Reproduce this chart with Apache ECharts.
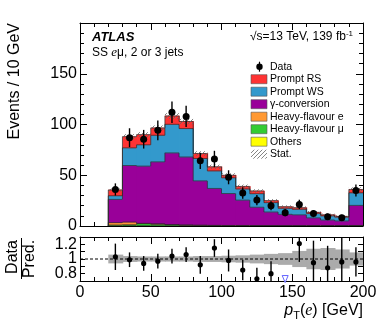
<!DOCTYPE html>
<html><head><meta charset="utf-8">
<script src="https://cdn.jsdelivr.net/npm/echarts@6/dist/echarts.min.js"></script>
<style>html,body{margin:0;padding:0;background:#fff}#c{width:382px;height:323px}</style>
</head><body><div id="c"></div>
<script>
// ---- data ----
const binLow   = [20,30,40,50,60,70,80,90,100,110,120,130,140,150,160,170,180,190];
const binWidth = 10;
const others    = [0.2,0.3,0.3,0.2,0.2,0.2,0.1,0.1,0.1,0.1,0.1,0.1,0.1,0.1,0.1,0.1,0.1,0.1];
const hfMu      = [0.8,1.0,2.0,1.6,1.0,0.6,0.5,0.4,0.3,0.3,0.2,0.2,0.1,0.1,0.1,0.1,0.1,0.2];
const hfE       = [2.3,2.6,0.3,0.3,0.2,0.2,0.2,0.1,0.1,0.1,0.1,0.1,0.1,0.1,0.1,0.1,0.1,0.2];
const gammaConv = [22.9,55.7,56.4,61.1,70.6,67.0,43.7,36.4,31.5,25.0,18.1,13.4,11.2,10.7,7.7,5.6,4.7,19.8];
const promptWS  = [3.6,17.4,21.0,26.2,28.2,28.0,22.0,17.3,15.5,11.0,13.3,9.2,6.0,5.5,4.2,4.1,3.8,12.4];
const promptRS  = [5.7,11.0,10.0,7.2,8.2,7.0,4.9,4.0,2.5,2.5,2.7,2.0,1.5,1.5,1.3,1.0,0.7,3.3];
const statErr   = [1.5,2.5,2.5,2.5,2.8,2.7,2.3,2.1,2.0,1.8,1.7,1.5,1.4,1.4,1.3,1.2,1.1,2.1];
const dataVals  = [36,87,85.5,94.3,112,108,64.2,66,48,32.5,25.5,20,13.1,21.3,12.2,9.2,8.2,35];
const dataErr   = [6,9.3,9.2,9.7,10.6,10.4,8,8.1,6.9,5.7,5,4.5,3.6,4.6,3.5,3,2.9,5.9];
const ratioVals = [1.03,0.99,0.94,0.97,1.04,1.06,0.92,1.15,0.98,0.85,0.73,0.80,null,1.21,0.95,0.88,0.96,0.96];
const ratioErr  = [0.18,0.10,0.10,0.10,0.10,0.10,0.12,0.12,0.15,0.14,0.15,0.17,0,0.25,0.30,0.30,0.35,0.20];
const ratioBand = [0.06,0.04,0.035,0.035,0.035,0.035,0.04,0.04,0.045,0.05,0.06,0.07,0.08,0.11,0.14,0.15,0.13,0.09];
const arrowBinLow = 140, arrowRatio = 0.72;
const yTicksMain = [0,50,100,150];
const yTicksRatio = [0.8,1,1.2];

const compNames  = ['Others','Heavy-flavour \u03bc','Heavy-flavour e','\u03b3-conversion','Prompt WS','Prompt RS'];
const compColors = ['#ffff00','#33cc33','#ff9933','#990099','#3399cc','#ff3333'];
const comps = [others,hfMu,hfE,gammaConv,promptWS,promptRS];

const FONT = 'Liberation Sans, Arial, Helvetica, sans-serif';

// cumulative stack per bin
const stackData = binLow.map((x0,i)=>{
  const cum=[0]; comps.forEach(c=>cum.push(cum[cum.length-1]+c[i]));
  const prev=[0];
  if(i>0){ comps.forEach(c=>prev.push(prev[prev.length-1]+c[i-1])); } else { comps.forEach(()=>prev.push(0)); }
  return [x0, x0+binWidth].concat(cum).concat(prev);
});

function hatchCanvas(){
  const c=document.createElement('canvas'); c.width=4; c.height=4;
  const g=c.getContext('2d'); g.strokeStyle='#666'; g.lineWidth=0.8;
  g.beginPath(); g.moveTo(0,4); g.lineTo(4,0); g.moveTo(-1,1); g.lineTo(1,-1); g.moveTo(3,5); g.lineTo(5,3); g.stroke();
  return c;
}
const hatch = {image: hatchCanvas(), repeat:'repeat'};

function renderStack(params, api){
  const x0=api.value(0), x1=api.value(1);
  const n=comps.length;
  const ch=[];
  const last = x1 >= 200;
  for(let k=0;k<n;k++){
    const b=api.value(2+k), t=api.value(3+k);
    const pb=api.coord([x0,b]), pt=api.coord([x1,t]);
    ch.push({type:'rect', shape:{x:pb[0], y:pt[1]-0.3, width:pt[0]-pb[0]+(last?0:0.8), height:pb[1]-pt[1]+0.6}, style:{fill:compColors[k]}});
  }
  for(let k=1;k<=n;k++){
    const t=api.value(2+k), pv=api.value(2+n+1+k);
    const a=api.coord([x0,pv]), b=api.coord([x0,t]), c=api.coord([x1,t]);
    ch.push({type:'polyline', shape:{points:[a,b,c]}, style:{stroke:'rgba(40,40,40,0.85)', lineWidth:0.8, fill:null}});
  }
  return {type:'group', children:ch};
}
function renderStat(params, api){
  const x0=api.value(0), x1=api.value(1), t=api.value(2), e=api.value(3);
  const a=api.coord([x0,t+e]), b=api.coord([x1,t-e]);
  return {type:'rect', shape:{x:a[0], y:a[1], width:b[0]-a[0], height:b[1]-a[1]}, style:{fill:hatch}};
}
function makePointRender(r){
  return function(params, api){
    const x=api.value(0), v=api.value(1), e=api.value(2);
    const top=api.coord([x,v+e]), bot=api.coord([x,v-e]), c=api.coord([x,v]);
    return {type:'group', children:[
      {type:'line', shape:{x1:top[0],y1:top[1],x2:bot[0],y2:bot[1]}, style:{stroke:'#000', lineWidth:1.4}},
      {type:'circle', shape:{cx:c[0],cy:c[1],r:r}, style:{fill:'#000'}}
    ]};
  };
}
function renderBand(params, api){
  const x0=api.value(0), x1=api.value(1), b=api.value(2);
  const a=api.coord([x0,1+b]), c=api.coord([x1,1-b]);
  const last = x1 >= 200;
  return {type:'rect', shape:{x:a[0], y:a[1], width:c[0]-a[0]+(last?0:0.8), height:c[1]-a[1]}, style:{fill:'#ababab'}};
}
function renderArrow(params, api){
  const c=api.coord([api.value(0), api.value(1)]);
  return {type:'polygon', shape:{points:[[c[0]-3,c[1]-4],[c[0]+3,c[1]-4],[c[0],c[1]+3]]}, style:{fill:'#fff', stroke:'#6666ff', lineWidth:1}};
}

const tickStyle = {show:true, inside:true, length:7, lineStyle:{color:'#000',width:1}};
const minorStyle = {show:true, splitNumber:5, length:4, lineStyle:{color:'#000',width:1}};
const lineStyle = {show:true, onZero:false, lineStyle:{color:'#000',width:1}};
const labelStyle = {color:'#000', fontSize:16, fontFamily:FONT};

function xAx(grid, pos, showLabel){
  return {type:'value', gridIndex:grid, position:pos, min:0, max:200, interval:50,
    axisLine:lineStyle, axisTick:tickStyle, minorTick:minorStyle, splitLine:{show:false},
    axisLabel: showLabel ? Object.assign({margin:4}, labelStyle) : {show:false}};
}

const option = {
  animation:false,
  grid:[
    {left:80, top:23, width:283, height:203},
    {left:80, top:237, width:283, height:44}
  ],
  xAxis:[ xAx(0,'bottom',false), xAx(0,'top',false), xAx(1,'bottom',true), xAx(1,'top',false) ],
  yAxis:[
    {type:'value', gridIndex:0, position:'left', min:0, max:200, interval:50,
      axisLine:lineStyle, axisTick:tickStyle, minorTick:minorStyle, splitLine:{show:false},
      axisLabel:Object.assign({margin:3, formatter:v=> yTicksMain.indexOf(v)>=0 ? String(v) : ''}, labelStyle)},
    {type:'value', gridIndex:0, position:'right', min:0, max:200, interval:50,
      axisLine:lineStyle, axisTick:tickStyle, minorTick:minorStyle, splitLine:{show:false}, axisLabel:{show:false}},
    {type:'value', gridIndex:1, position:'left', min:0.7, max:1.3, interval:0.1,
      axisLine:lineStyle, axisTick:{show:true, inside:true, length:5, lineStyle:{color:'#000',width:1}}, splitLine:{show:false},
      axisLabel:Object.assign({margin:3, formatter:v=>{const r=Math.round(v*10)/10; return yTicksRatio.indexOf(r)>=0 ? String(r) : '';}}, labelStyle)},
    {type:'value', gridIndex:1, position:'right', min:0.7, max:1.3, interval:0.1,
      axisLine:lineStyle, axisTick:{show:true, inside:true, length:5, lineStyle:{color:'#000',width:1}}, splitLine:{show:false}, axisLabel:{show:false}}
  ],
  series:[
    {type:'custom', name:'stack', xAxisIndex:0, yAxisIndex:0, renderItem:renderStack, data:stackData, clip:true, z:2},
    {type:'custom', name:'Stat.', xAxisIndex:0, yAxisIndex:0, renderItem:renderStat, clip:true, z:3,
      data: binLow.map((x0,i)=>[x0, x0+binWidth, stackData[i][2+comps.length], statErr[i]])},
    {type:'custom', name:'Data', xAxisIndex:0, yAxisIndex:0, renderItem:makePointRender(3.5), clip:true, z:4,
      data: binLow.map((x0,i)=>[x0+binWidth/2, dataVals[i], dataErr[i]])},
    {type:'custom', name:'band', xAxisIndex:2, yAxisIndex:2, renderItem:renderBand, clip:true, z:2,
      data: binLow.map((x0,i)=>[x0, x0+binWidth, ratioBand[i]])},
    {type:'line', name:'one', xAxisIndex:2, yAxisIndex:2, data:[[0,1],[200,1]], symbol:'none', z:3,
      lineStyle:{color:'#000', width:1, type:[3,2]}},
    {type:'custom', name:'ratio', xAxisIndex:2, yAxisIndex:2, renderItem:makePointRender(2.6), clip:true, z:4,
      data: binLow.map((x0,i)=>[x0+binWidth/2, ratioVals[i], ratioErr[i]]).filter(d=>d[1]!==null)},
    {type:'custom', name:'arrow', xAxisIndex:2, yAxisIndex:2, renderItem:renderArrow, clip:false, z:5,
      data:[[arrowBinLow+binWidth/2, arrowRatio]]}
  ],
  graphic:[]
};

// legend + annotations
const G = option.graphic;
const legX = 251, legTextX = 270, legY0 = 66.7, legDy = 12.5;
const legFont = '10.5px ' + FONT;
G.push({type:'line', shape:{x1:259.5,y1:legY0-5,x2:259.5,y2:legY0+5}, style:{stroke:'#000',lineWidth:1.2}});
G.push({type:'circle', shape:{cx:259.5,cy:legY0,r:3.2}, style:{fill:'#000'}});
G.push({type:'text', x:legTextX, y:legY0, style:{text:'Data', font:legFont, fill:'#000', textVerticalAlign:'middle'}});
const legOrder = [5,4,3,2,1,0];
legOrder.forEach((k,j)=>{
  const y = legY0 + legDy*(j+1);
  G.push({type:'rect', shape:{x:legX, y:y-4.5, width:16, height:9}, style:{fill:compColors[k], stroke:'#555', lineWidth:0.6}});
  G.push({type:'text', x:legTextX, y:y, style:{text:compNames[k], font:legFont, fill:'#000', textVerticalAlign:'middle'}});
});
const yStat = legY0 + legDy*7;
G.push({type:'rect', shape:{x:legX, y:yStat-4.5, width:16, height:9}, style:{fill:hatch}});
G.push({type:'text', x:legTextX, y:yStat, style:{text:'Stat.', font:legFont, fill:'#000', textVerticalAlign:'middle'}});

G.push({type:'text', x:92, y:37, style:{text:'ATLAS', font:'italic bold 13px '+FONT, fill:'#000', textVerticalAlign:'middle'}});
G.push({type:'text', x:92, y:53, style:{text:'{n|SS }{e|e}{n|\u03bc, 2 or 3 jets}', fill:'#000', textVerticalAlign:'middle',
  rich:{n:{font:'12px '+FONT, fill:'#000'}, e:{font:'italic 13px Liberation Serif, DejaVu Serif, serif', fill:'#000'}}}});
G.push({type:'text', x:353, y:37, style:{text:'{n|\u221as=13 TeV, 139 fb}{s|-1}', fill:'#000', textAlign:'right', textVerticalAlign:'middle',
  rich:{n:{font:'12px '+FONT, fill:'#000'}, s:{font:'8px '+FONT, fill:'#000', padding:[0,0,7,0]}}}});

G.push({type:'text', x:15, y:23, rotation:Math.PI/2, style:{text:'Events / 10 GeV', font:'16px '+FONT, fill:'#000', textAlign:'right', textVerticalAlign:'middle'}});
G.push({type:'text', x:363, y:311, style:{text:'{p|p}{t|T}{n|(}{e|e}{n|) [GeV]}', fill:'#000', textAlign:'right', textVerticalAlign:'middle',
  rich:{p:{font:'italic 16px '+FONT, fill:'#000'}, t:{font:'11px '+FONT, fill:'#000', padding:[9,0,0,0]},
        n:{font:'16px '+FONT, fill:'#000'}, e:{font:'italic 16px Liberation Serif, DejaVu Serif, serif', fill:'#000'}}}});
// Data / Pred. fraction label
G.push({type:'text', x:13, y:257, rotation:Math.PI/2, style:{text:'Data', font:'16px '+FONT, fill:'#000', textAlign:'center', textVerticalAlign:'middle'}});
G.push({type:'line', shape:{x1:21.5,y1:238,x2:21.5,y2:279}, style:{stroke:'#000',lineWidth:1}});
G.push({type:'text', x:30, y:259, rotation:Math.PI/2, style:{text:'Pred.', font:'16px '+FONT, fill:'#000', textAlign:'center', textVerticalAlign:'middle'}});

const chart = echarts.init(document.getElementById('c'), null, {renderer:'canvas'});
chart.setOption(option);
</script></body></html>
